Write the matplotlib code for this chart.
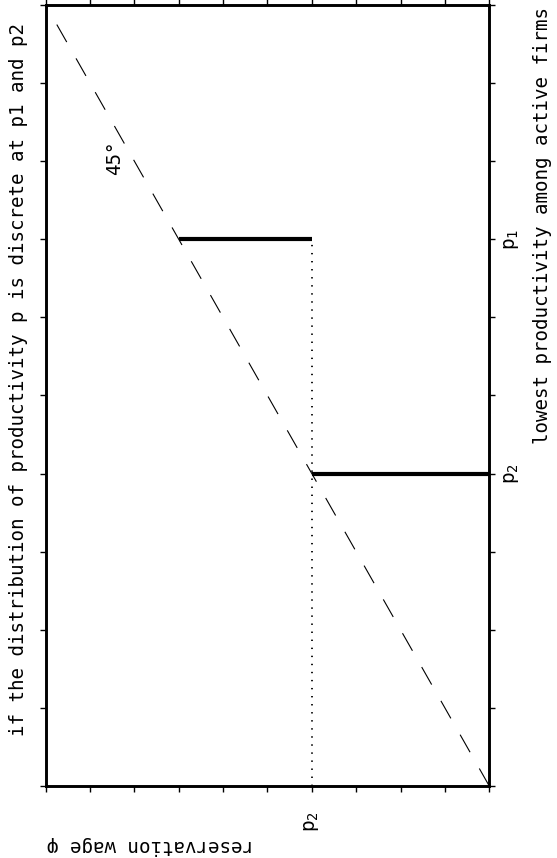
import matplotlib
matplotlib.use('Agg')
import matplotlib.pyplot as plt

plt.rcParams['font.family'] = ['DejaVu Sans Mono', 'DejaVu Sans']
plt.rcParams['mathtext.default'] = 'regular'
plt.rcParams['mathtext.fontset'] = 'custom'
plt.rcParams['mathtext.rm'] = 'DejaVu Sans Mono'
plt.rcParams['lines.scale_dashes'] = False

# values of the picture (the chart is drawn turned a quarter)
p2 = 4
p1 = 7
wage_ticks = list(range(0, 11))
prod_ticks = list(range(0, 11))
diag_wage = [0, 10]
diag_prod = [0, 10]
step_prod = [p2, p1]
step_wage_lo = [0, p2]
step_wage_hi = [p2, p1]
dot_wage = [p2, p2]
dot_prod = [0, p1]
wage_labels = ['p$_2$' if w == p2 else '' for w in wage_ticks]
prod_labels = ['p$_2$' if v == p2 else 'p$_1$' if v == p1 else '' for v in prod_ticks]

fig = plt.figure(figsize=(5.57, 8.58), dpi=100)
ax = fig.add_axes([0.082, 0.0839, 0.7964, 0.9103])

ax.plot(diag_wage, diag_prod, color='black', lw=0.8, ls=(0, (14.5, 13.5)))
ax.hlines(step_prod, step_wage_lo, step_wage_hi, color='black', lw=3)
ax.plot(dot_wage, dot_prod, color='black', lw=1.3, ls=(0, (1, 4.8)))

ax.set_xlim(10, 0)
ax.set_ylim(0, 10)
ax.set_xticks(wage_ticks)
ax.set_yticks(prod_ticks)
ax.set_xticklabels(wage_labels, rotation=90, fontsize=14)
ax.set_yticklabels(prod_labels, rotation=90, fontsize=14, va='center')
ax.tick_params(axis='both', direction='out', length=4, width=1,
               top=True, bottom=True, left=True, right=True,
               labelleft=False, labelright=True, labeltop=False, labelbottom=True)
ax.tick_params(axis='x', pad=14)
ax.tick_params(axis='y', pad=5)
for s in ax.spines.values():
    s.set_linewidth(2.1)

ax.text(8.45, 8.05, '45°', rotation=90, ha='center', va='center', fontsize=13.8)

fig.text(19 / 557, 1 - 379 / 858,
         'if the distribution of productivity p is discrete at p1 and p2',
         rotation=90, ha='center', va='center', fontsize=13.8)
fig.text(543 / 557, 1 - 7 / 858, 'lowest productivity among active firms',
         rotation=90, ha='center', va='top', fontsize=13.8)
fig.text(150 / 557, 1 - 846 / 858, 'reservation wage \u03c6',
         rotation=180, ha='center', va='center', fontsize=13.8)

fig.savefig('out.png', dpi=100)
